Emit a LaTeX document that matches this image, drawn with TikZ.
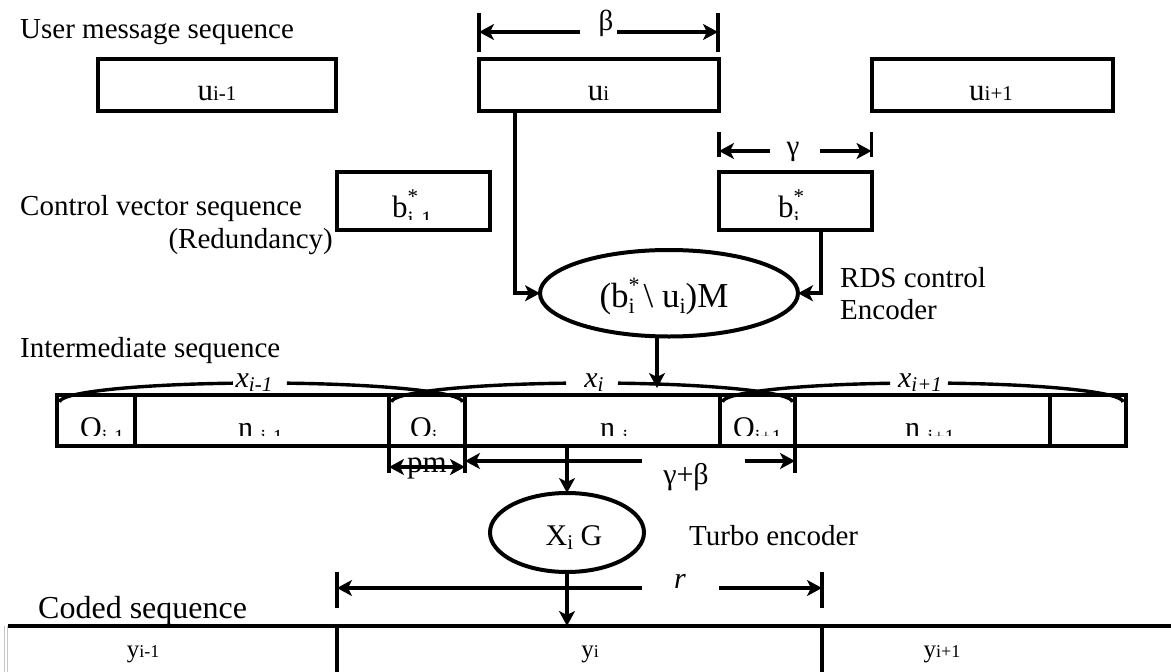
\documentclass[tikz,border=0pt]{standalone}
\usepackage{fontspec}
\setmainfont{Liberation Serif}
\usetikzlibrary{arrows.meta,shapes.geometric}
\newcommand\myfs[1]{\fontsize{#1}{#1}\selectfont}
\newcommand\lowsub[2]{\smash{\raisebox{-#1pt}{\myfs{20}#2}}}
\begin{document}
\begin{tikzpicture}[x=1pt,y=-1pt,
  box/.style={draw,line width=4pt,inner sep=0pt,outer sep=0pt},
  ell/.style={draw,ellipse,line width=4pt,inner sep=0pt,outer sep=0pt},
  txt/.style={font=\myfs{29},inner sep=0pt,anchor=base west},
  lab/.style={font=\myfs{30},inner sep=0pt,anchor=base},
  tip/.tip={Stealth[length=15pt,width=16pt,inset=4pt]},
  arr/.style={line width=3.6pt,-tip},
  arrboth/.style={line width=3.6pt,tip-tip},
  ln/.style={line width=3.6pt},
  seg/.style={line width=4pt},
  arcline/.style={line width=3.4pt},
]
\useasboundingbox (0,0) rectangle (1171,672);

% ---------- labels ----------
\node[txt] (lum) at (20,38) {User message sequence};
\node[txt] (lcv) at (20,215) {Control vector sequence};
\node[txt,anchor=base east] (lred) at (333,248) {(Redundancy)};
\node[txt] (lint) at (20,357) {Intermediate sequence};
\node[txt] (lrds) at (840,287) {RDS control};
\node[txt] (lenc) at (840,319) {Encoder};
\node[txt] (lturbo) at (689,545) {Turbo encoder};
\node[txt,font=\myfs{32}] (lcoded) at (38,618) {Coded sequence};

% ---------- user message boxes ----------
\node[box,minimum width=238.5pt,minimum height=52.5pt] (uim) at (216.75,84.75) {};
\node[box,minimum width=240pt,minimum height=52.5pt] (ui) at (599,84.75) {};
\node[box,minimum width=241pt,minimum height=52.5pt] (uip) at (992,84.75) {};
\node[lab,font=\myfs{31}] (tuim) at (217,100) {u{\myfs{21}i-1}};
\node[lab,font=\myfs{31}] (tui) at (598.5,100) {u{\myfs{21}i}};
\node[lab,font=\myfs{31}] (tuip) at (991,100) {u{\myfs{21}i+1}};

% beta dimension
\coordinate (bL) at (479,32);
\coordinate (bR) at (718,32);
\draw[ln] (479,13) -- (479,52);
\draw[ln] (718,13) -- (718,52);
\node[lab,font=\myfs{29}] (beta) at (606,30) {β};
\coordinate (bgl) at (580,32);
\coordinate (bgr) at (617,32);
\draw[arr] (bgl) -- (bL);
\draw[arr] (bgr) -- (bR);

% gamma dimension
\coordinate (gL) at (719,151);
\coordinate (gR) at (871.5,151);
\draw[ln] (719,132) -- (719,157);
\draw[ln] (871.5,132) -- (871.5,157);
\node[lab,font=\myfs{29}] (gamma) at (793,155) {γ};
\coordinate (ggl) at (770,151);
\coordinate (ggr) at (820,151);
\draw[arr] (ggl) -- (gL);
\draw[arr] (ggr) -- (gR);

% ---------- control vector boxes ----------
\node[box,minimum width=153pt,minimum height=58pt] (bim) at (413.5,201) {};
\node[box,minimum width=152.5pt,minimum height=58pt] (bi) at (795.25,201) {};
\begin{scope}
  \clip (330,160) rectangle (880,219);
  \node[txt,font=\myfs{31}] (tbim) at (392,217) {b\rlap{\raisebox{14pt}{\myfs{21}*}}\smash{\raisebox{-9pt}{\myfs{22}i-1}}};
  \node[txt,font=\myfs{31}] (tbi) at (778,217) {b\rlap{\raisebox{14pt}{\myfs{21}*}}\smash{\raisebox{-9pt}{\myfs{22}i}}};
\end{scope}

% ---------- RDS control encoder ----------
\node[ell,minimum width=258pt,minimum height=86.5pt] (enc) at (669,293.25) {};
\node[lab,font=\myfs{35}] (tenc) at (664,307) {(b\rlap{\raisebox{15pt}{\myfs{22}*}}\raisebox{-6pt}{\myfs{22}i} \textbackslash{} u\raisebox{-6pt}{\myfs{22}i})M};

\draw[arr] ([xshift=-84pt]ui.south) |- (enc.west);
\draw[arr] ([xshift=26pt]bi.south) |- (enc.east);
\coordinate (xitop) at (657,388);
\draw[arr] ([xshift=-12pt]enc.south) -- (xitop);

% ---------- intermediate sequence ----------
\node[box,minimum width=1068.5pt,minimum height=50.5pt] (inter) at (591.25,420.25) {};
\foreach \xx in {134.5,389,465,720,795,1050}{
  \draw[seg] (\xx,395) -- (\xx,445.5);
}
\begin{scope}
  \clip (50,390) rectangle (1130,435);
  \node[txt,font=\myfs{30}] (to1) at (80,437) {O\lowsub{6}{i-1}};
  \node[txt,font=\myfs{30}] (tn1) at (238,437) {n \lowsub{6}{i-1}};
  \node[txt,font=\myfs{30}] (to2) at (410,437) {O\lowsub{6}{i}};
  \node[txt,font=\myfs{30}] (tn2) at (600,437) {n \lowsub{6}{i}};
  \node[txt,font=\myfs{30}] (to3) at (733,437) {O\lowsub{6}{i+1}};
  \node[txt,font=\myfs{30}] (tn3) at (905,437) {n \lowsub{6}{i+1}};
\end{scope}

% braces (arcs) over the segments
\draw[arcline] (59.5,402) arc[start angle=180,end angle=262,x radius=201.5,y radius=19];
\draw[arcline] (462.5,402) arc[start angle=360,end angle=277.4,x radius=201.5,y radius=19];
\draw[arcline] (391.5,402) arc[start angle=180,end angle=262.55,x radius=200.5,y radius=19];
\draw[arcline] (792.5,402) arc[start angle=360,end angle=277.45,x radius=200.5,y radius=19];
\draw[arcline] (722.5,402) arc[start angle=180,end angle=260.6,x radius=200.25,y radius=19];
\draw[arcline] (1123,402) arc[start angle=360,end angle=277.24,x radius=200.25,y radius=19];
\node[lab,font=\myfs{30}\itshape] (lx1) at (254,387) {x\raisebox{-4pt}{\myfs{21}i-1}};
\node[lab,font=\myfs{30}\itshape] (lx2) at (594,387) {x\raisebox{-4pt}{\myfs{21}i}};
\node[lab,font=\myfs{30}\itshape] (lx3) at (920,387) {x\raisebox{-4pt}{\myfs{21}i+1}};

% pm and gamma+beta dimensions
\draw[ln] (389,446) -- (389,473);
\draw[ln] (465,446) -- (465,473);
\draw[ln] (795,446) -- (795,473);
\coordinate (pmL) at (389,467);
\coordinate (pmR) at (465,467);
\draw[arrboth] (pmL) -- (pmR);
\node[lab,font=\myfs{31}] (pm) at (427,472) {pm};
\coordinate (gbL) at (465,461);
\coordinate (gbR) at (795,461);
\coordinate (gbgl) at (642,461);
\coordinate (gbgr) at (745,461);
\draw[arr] (gbgl) -- (gbL);
\draw[arr] (gbgr) -- (gbR);
\node[lab,font=\myfs{30}] (gb) at (686,484) {γ+β};

% ---------- turbo encoder ----------
\node[ell,minimum width=154pt,minimum height=79pt] (tenc2) at (567,532.5) {};
\node[lab,font=\myfs{30}] (ttenc2) at (574,545) {X\raisebox{-4pt}{\myfs{21}i} G};
\draw[arr] ([xshift=-24.25pt]inter.south) -- (tenc2.north);
\coordinate (ytop) at (567,626);
\draw[arr] (tenc2.south) -- (ytop);

% r dimension
\draw[ln] (337,572) -- (337,608);
\draw[ln] (822,572) -- (822,608);
\coordinate (rL) at (337,588);
\coordinate (rR) at (822,588);
\coordinate (rgl) at (642,588);
\coordinate (rgr) at (719,588);
\draw[arr] (rgl) -- (rL);
\draw[arr] (rgr) -- (rR);
\node[lab,font=\myfs{30}\itshape] (rlab) at (680,588) {r};

% ---------- coded sequence ----------
\draw[gray!45,line width=1pt] (4,626) -- (4,672);
\draw[gray!45,line width=1pt] (7,626) -- (7,672);
\draw[ln] (8,626) -- (1171,626);
\draw[ln] (337,626) -- (337,672);
\draw[ln] (822,626) -- (822,672);
\node[lab,font=\myfs{25}] (y1) at (143,657) {y{\myfs{18}i-1}};
\node[lab,font=\myfs{25}] (y2) at (590,657) {y{\myfs{18}i}};
\node[lab,font=\myfs{25}] (y3) at (942,657) {y{\myfs{18}i+1}};
\end{tikzpicture}
\end{document}
